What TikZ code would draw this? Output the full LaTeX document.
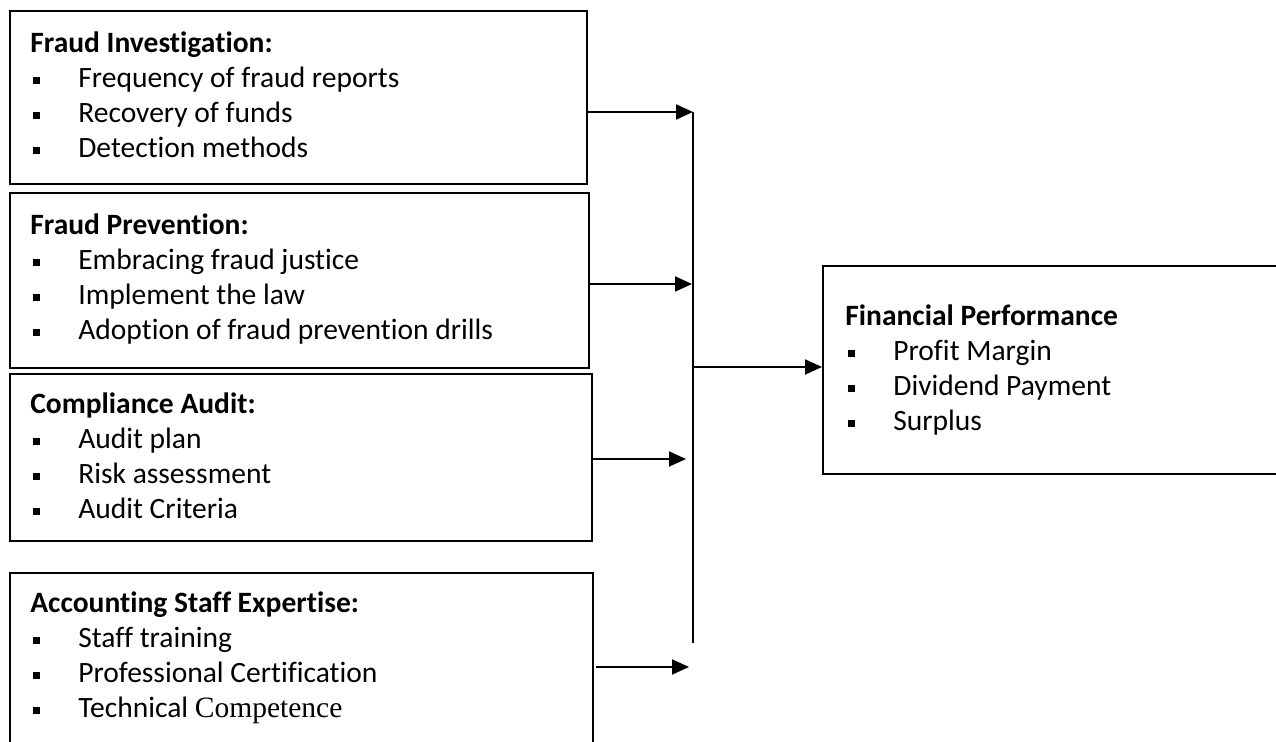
\documentclass[tikz,border=0pt]{standalone}
\usepackage{fontspec}
\setmainfont{Carlito}[Ligatures={NoCommon}]
\newfontfamily\timesfont{Liberation Serif}
\usetikzlibrary{arrows.meta,positioning}

\tikzset{
  box/.style={draw, line width=1.3pt, anchor=north west, inner sep=0pt},
  lbl/.style={anchor=base west, inner sep=0pt, font=\fontsize{16.8}{19.9}\selectfont},
  arr/.style={line width=1.1pt, -{Triangle[length=0.34cm,width=0.3cm]}},
  bar/.style={line width=0.6pt}
}
\newcommand{\sqb}{\makebox[0.96cm][l]{\hspace*{0.06cm}\rule[0.08cm]{0.14cm}{0.14cm}}}

\begin{document}
\begin{tikzpicture}[x=0.02cm,y=-0.02cm]
  \useasboundingbox (0,0) rectangle (1276,742);

  % left boxes
  \node[box, minimum width=11.54cm, minimum height=3.46cm] (inv) at (9,10) {};
  \node[box, minimum width=11.58cm, minimum height=3.50cm] (prev) at (9,192) {};
  \node[box, minimum width=11.64cm, minimum height=3.34cm] (comp) at (9,373) {};
  \node[box, minimum width=11.66cm, minimum height=3.80cm] (staff) at (9,572) {};
  % right box
  \node[box, minimum width=9.40cm, minimum height=4.16cm] (perf) at (822,265) {};

  \node[lbl] (invtext) at (30,53) {\parbox[t]{11cm}{\textbf{Fraud Investigation:}\\
    \sqb Frequency of fraud reports\\
    \sqb Recovery of funds\\
    \sqb Detection methods}};
  \node[lbl] (prevtext) at (30,235) {\parbox[t]{11cm}{\textbf{Fraud Prevention:}\\
    \sqb Embracing fraud justice\\
    \sqb Implement the law\\
    \sqb Adoption of fraud prevention drills}};
  \node[lbl] (comptext) at (30,414) {\parbox[t]{11cm}{\textbf{Compliance Audit:}\\
    \sqb Audit plan\\
    \sqb Risk assessment\\
    \sqb Audit Criteria}};
  \node[lbl] (stafftext) at (30,613) {\parbox[t]{11cm}{\textbf{Accounting Staff Expertise:}\\
    \sqb Staff training\\
    \sqb Professional Certification\\
    \sqb Technical {\timesfont Competence}}};
  \node[lbl] (perftext) at (845,326) {\parbox[t]{8cm}{\textbf{Financial Performance}\\
    \sqb Profit Margin\\
    \sqb Dividend Payment\\
    \sqb Surplus}};

  % joining line
  \coordinate (bartop) at (693,112);
  \coordinate (barbot) at (693,643);
  \coordinate (barout) at (693,367);
  \coordinate (j1) at (693,112);
  \coordinate (j2) at (692,284);
  \coordinate (j3) at (686,459);
  \coordinate (j4) at (689,667);

  \draw[bar] (bartop) -- (barbot);
  \draw[arr] (inv.east |- j1) -- (j1);
  \draw[arr] (prev.east |- j2) -- (j2);
  \draw[arr] (comp.east |- j3) -- (j3);
  \draw[arr] ([xshift=0.04cm]staff.east |- j4) -- (j4);
  \draw[arr] (barout) -- (perf.west |- barout);
\end{tikzpicture}
\end{document}
